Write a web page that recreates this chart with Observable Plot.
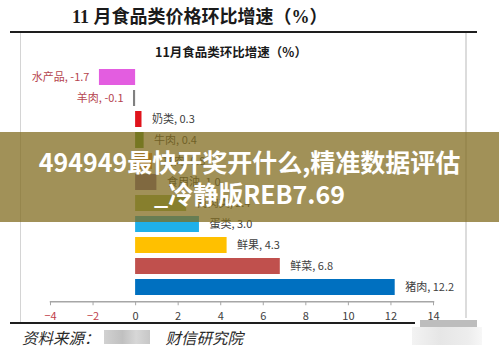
<!DOCTYPE html>
<html>
<head>
<meta charset="utf-8">
<script src="https://cdn.jsdelivr.net/npm/d3@7"></script>
<script src="https://cdn.jsdelivr.net/npm/@observablehq/plot@0.6"></script>
<style>
  html, body { margin: 0; padding: 0; background: #fff; }
  #wrap { position: relative; width: 499px; height: 354px; overflow: hidden; background: #fff; font-family: "Noto Sans CJK SC", sans-serif; }
  #chart { position: absolute; left: 0; top: 0; }
  .abs { position: absolute; }
  #title { left: 72px; top: 5px; font-family: "Liberation Serif", "Noto Sans CJK SC", serif; font-weight: 700; font-size: 18px; line-height: 24px; color: #1a1a1a; white-space: nowrap; }
  #topline { left: 10px; top: 31px; width: 467px; height: 2px; background: #1e1e1e; }
  #botline { left: 10px; top: 322px; width: 405px; height: 2px; background: #1e1e1e; }
  #boxl { left: 20px; top: 33px; width: 1px; height: 289px; background: #d4d4d4; }
  #boxr { left: 465px; top: 33px; width: 2px; height: 285px; background: #dcdcdc; }
  #subtitle { left: 0; width: 462px; text-align: center; top: 43px; font-weight: 700; font-size: 12.5px; line-height: 18px; color: #1a1a1a; white-space: nowrap; }
  #source { left: 22px; top: 326px; font-style: italic; font-size: 15.5px; line-height: 22px; color: #2a2a2a; white-space: nowrap; }
  #blur1 { left: 104px; top: 330px; width: 46px; height: 14px; background: linear-gradient(90deg, #c9c9c9 0%, #b5b5b5 40%, #d0d0d0 70%, #bdbdbd 100%); opacity: 0.85; }
  #blur2 { left: 420px; top: 320px; width: 57px; height: 7px; background: #bdbdbd; }
  #blur3 { left: 412px; top: 327px; width: 70px; height: 18px; background: linear-gradient(90deg, #f3f3f3, #e6e6e6 40%, #ededed 80%, #f7f7f7); }
  #banner { left: 0; top: 132px; width: 499px; height: 90px; background: rgba(128,106,30,0.74); }
  #bannertext { left: 0; top: 145px; width: 499px; text-align: center; color: #fff; font-weight: 700; font-size: 25px; line-height: 32px; white-space: nowrap; letter-spacing: 0px; }
</style>
</head>
<body>
<div id="wrap">
  <div id="chart"></div>
  <div class="abs" id="title">11 月食品类价格环比增速（%）</div>
  <div class="abs" id="topline"></div>
  <div class="abs" id="boxl"></div>
  <div class="abs" id="boxr"></div>
  <div class="abs" id="subtitle">11月食品类环比增速（%）</div>
  <div class="abs" id="botline"></div>
  <div class="abs" id="source">资料来源：<span style="display:inline-block;width:66px"></span>财信研究院</div>
  <div class="abs" id="blur1"></div>
  <div class="abs" id="blur2"></div>
  <div class="abs" id="blur3"></div>
  <div class="abs" id="banner"></div>
  <div class="abs" id="bannertext">494949最快开奖开什么,精准数据评估<br>_冷静版REB7.69</div>
</div>
<script>
const categories = ["水产品", "羊肉", "奶类", "牛肉", "禽肉", "食用油", "禽肉类", "蛋类", "鲜果", "鲜菜", "猪肉"];
const values = [-1.7, -0.1, 0.3, 0.4, 0.8, 1.0, 2.4, 3.0, 4.3, 6.8, 12.2];
const barColors = ["#e35de0", "#808080", "#e0141c", "#5a9a2e", "#f79646", "#8064a2", "#9bbb59", "#1fb0ea", "#ffc000", "#c0504d", "#0070c0"];
const xTicks = [-4, -2, 0, 2, 4, 6, 8, 10, 12, 14];

const data = categories.map((name, i) => ({name, value: values[i]}));
const label = d => `${d.name}, ${d.value.toFixed(1)}`;

const chart = Plot.plot({
  width: 499,
  height: 354,
  marginLeft: 50,
  marginRight: 66,
  marginTop: 62.75,
  marginBottom: 52.75,
  style: {fontFamily: "'Noto Sans CJK SC', sans-serif", fontSize: "11px", background: "transparent", overflow: "visible"},
  x: {domain: [-4, 14]},
  y: {domain: categories, padding: 0.25, axis: null},
  color: {domain: categories, range: barColors},
  marks: [
    Plot.frame({anchor: "bottom", stroke: "#a6a6a6", strokeWidth: 1.5}),
    Plot.axisX(xTicks.filter(t => t < 0), {tickSize: 4, tickPadding: 6, stroke: "#a6a6a6", fill: "#c0404a", label: null, fontSize: 11}),
    Plot.axisX(xTicks.filter(t => t >= 0), {tickSize: 4, tickPadding: 6, stroke: "#a6a6a6", fill: "#404040", label: null, fontSize: 11}),
    Plot.barX(data, {x: "value", y: "name", fill: "name"}),
    Plot.text(data.filter(d => d.value >= 0), {x: "value", y: "name", text: label, textAnchor: "start", dx: 10, fill: "#404040"}),
    Plot.text(data.filter(d => d.value < 0), {x: "value", y: "name", text: label, textAnchor: "end", dx: -10, fill: "#b5444e"})
  ]
});
document.getElementById("chart").appendChild(chart);
</script>
</body>
</html>
